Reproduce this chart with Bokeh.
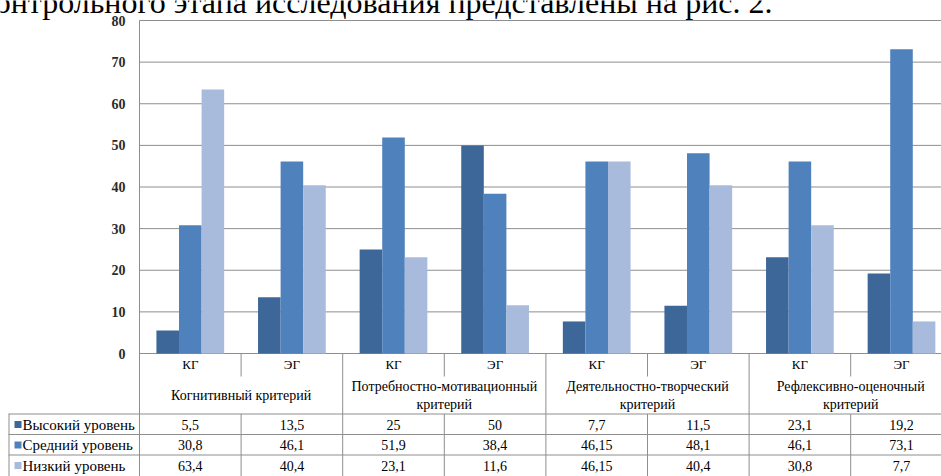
import numpy as np
from bokeh.plotting import figure
from bokeh.models import Range1d
from bokeh.core.properties import value
from bokeh.embed import file_html
from bokeh.resources import INLINE

# ---------------- data ----------------
groups = ["Когнитивный критерий",
          "Потребностно-мотивационный\nкритерий",
          "Деятельностно-творческий\nкритерий",
          "Рефлексивно-оценочный\nкритерий"]
subgroups = ["КГ", "ЭГ"]
series_names = ["Высокий уровень", "Средний уровень", "Низкий уровень"]
high = [5.5, 13.5, 25, 50, 7.7, 11.5, 23.1, 19.2]
medium = [30.8, 46.1, 51.9, 38.4, 46.15, 48.1, 46.1, 73.1]
low = [63.4, 40.4, 23.1, 11.6, 46.15, 40.4, 30.8, 7.7]
y_ticks = [0, 10, 20, 30, 40, 50, 60, 70, 80]
intro_text = "контрольного этапа исследования представлены на рис. 2."

# ---------------- style / layout ----------------
colors = ["#3E6799", "#4F81BD", "#A9BBDC"]
line_col = "#8E8E8E"
FONT = value("Liberation Serif")
W, H = 941, 476
CAT_PX = 101.6          # pixel width of one category
X0_PX = 139             # canvas x of value axis
Y0_PX, YTOP_PX = 353, 20  # canvas y of 0 and of 80
PPU_Y = (Y0_PX - YTOP_PX) / 80.0


def dx(px):
    return (px - X0_PX) / CAT_PX


def dy(py):
    return (Y0_PX - py) / PPU_Y


p = figure(width=W, height=H, output_backend="svg", toolbar_location=None,
           x_range=Range1d(dx(0), dx(W)), y_range=Range1d(dy(H), dy(0)),
           x_axis_location=None, y_axis_location=None,
           min_border=0, background_fill_color="white",
           border_fill_color="white")
p.outline_line_color = None
p.grid.grid_line_color = None

n = len(high)
idx = np.arange(n)
xmax = dx(W) + 1

# gridlines (includes axis line at 0 and top border at 80)
p.segment(x0=[0] * len(y_ticks), x1=[xmax] * len(y_ticks), y0=y_ticks, y1=y_ticks,
          line_color=line_col, line_width=1)

# bars
bw = 1 / 4.5
for k, (vals, col) in enumerate(zip([high, medium, low], colors)):
    p.vbar(x=idx + 0.5 + (k - 1) * bw, top=vals, bottom=0, width=bw,
           fill_color=col, line_color=None)

# y tick labels
p.text(x=[dx(125)] * len(y_ticks), y=y_ticks, text=[str(t) for t in y_ticks],
       text_align="right", text_baseline="middle", text_font=FONT,
       text_font_size="14px", text_font_style="bold", text_color="#2b2b2b")

# table lines
y_bot = dy(H)
row_lines = [dy(413.5), dy(434), dy(454.5)]
# left border of chart (value axis) down to table bottom
p.segment(x0=[0], x1=[0], y0=[80], y1=[y_bot], line_color=line_col)
# group separators
p.segment(x0=[2, 4, 6], x1=[2, 4, 6], y0=[0] * 3, y1=[y_bot] * 3, line_color=line_col)
# subgroup separators (short in axis, full in rows)
p.segment(x0=[1, 3, 5, 7], x1=[1, 3, 5, 7], y0=[0] * 4, y1=[dy(376)] * 4, line_color=line_col)
p.segment(x0=[1, 3, 5, 7], x1=[1, 3, 5, 7], y0=[row_lines[0]] * 4, y1=[y_bot] * 4,
          line_color=line_col)
# left border of legend column
p.segment(x0=[dx(8.5)], x1=[dx(8.5)], y0=[row_lines[0]], y1=[y_bot], line_color=line_col)
# row lines
p.segment(x0=[dx(8)] * 3, x1=[xmax] * 3, y0=row_lines, y1=row_lines, line_color=line_col)

# category labels
p.text(x=idx + 0.5, y=[dy(364)] * n, text=[subgroups[i % 2] for i in range(n)],
       text_align="center", text_baseline="middle", text_font=FONT,
       text_font_size="13px", text_color="black")

# group labels
gx, gy, gt = [], [], []
for g, lab in enumerate(groups):
    lines = lab.split("\n")
    if len(lines) == 1:
        ys = [dy(395)]
    else:
        ys = [dy(386), dy(404)]
    for ln, yy in zip(lines, ys):
        gx.append(2 * g + 1)
        gy.append(yy)
        gt.append(ln)
p.text(x=gx, y=gy, text=gt, text_align="center", text_baseline="middle",
       text_font=FONT, text_font_size="14px", text_color="black")

# data rows
row_centers = [dy(424), dy(444.5), dy(465)]
for vals, yc, name, col in zip([high, medium, low], row_centers, series_names, colors):
    p.text(x=idx + 0.5, y=[yc] * n, text=[f"{v:g}".replace(".", ",") for v in vals],
           text_align="center", text_baseline="middle", text_font=FONT,
           text_font_size="14px", text_color="black")
    p.scatter(x=[dx(17.5)], y=[yc], marker="square", size=7, fill_color=col,
              line_color=None)
    p.text(x=[dx(22)], y=[yc], text=[name], text_align="left", text_baseline="middle",
           text_font=FONT, text_font_size="15px", text_color="black")

# cut-off sentence above the chart
p.text(x=[dx(772)], y=[dy(1.5)], text=[intro_text], text_align="right",
       text_baseline="middle", text_font=FONT, text_font_size="32px",
       text_color="black")

open("out.html", "w").write(file_html(p, INLINE))
